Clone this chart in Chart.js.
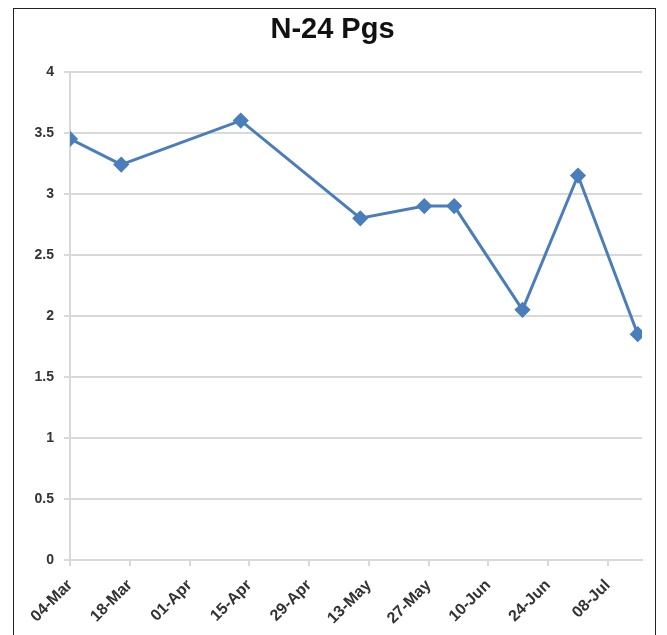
<!DOCTYPE html>
<html>
<head>
<meta charset="utf-8">
<script src="https://cdn.jsdelivr.net/npm/chart.js@4/dist/chart.umd.min.js"></script>
<style>
  body { margin: 0; background: #fff; }
  #frame { position: absolute; left: 13px; top: 8px; width: 643px; height: 640px; border: 1.5px solid #222; box-sizing: border-box; }
  #wrap { position: absolute; left: 23px; top: 0; width: 644px; height: 635px; }
</style>
</head>
<body>
<div id="frame"></div>
<div id="wrap"><canvas id="grafico"></canvas></div>
<script>
var startDate = '2013-03-04';
var sampleDates = ['2013-03-04', '2013-03-16', '2013-04-13', '2013-05-11', '2013-05-26',
                   '2013-06-02', '2013-06-18', '2013-07-01', '2013-07-15'];
var pgsValues = [3.45, 3.24, 3.6, 2.8, 2.9, 2.9, 2.05, 3.15, 1.85];
var xTickLabels = ['04-Mar', '18-Mar', '01-Apr', '15-Apr', '29-Apr', '13-May',
                   '27-May', '10-Jun', '24-Jun', '08-Jul'];
var yTickStep = 0.5;

function dayOffset(s) {
    return Math.round((Date.parse(s) - Date.parse(startDate)) / 86400000);
}

var points = sampleDates.map(function (d, i) {
    return { x: dayOffset(d), y: pgsValues[i] };
});

var gridColor = '#d9d9d9';

var ctx = document.getElementById('grafico').getContext('2d');
var grafico = new Chart(ctx, {
    type: 'line',
    data: {
        datasets: [{
            label: 'N-24 Pgs',
            data: points,
            borderColor: '#4a7ebb',
            backgroundColor: '#4a7ebb',
            borderWidth: 3,
            pointStyle: 'rectRot',
            pointRadius: 6,
            pointHoverRadius: 6,
            tension: 0
        }]
    },
    options: {
        responsive: true,
        maintainAspectRatio: false,
        animation: false,
        layout: { padding: { left: 0, right: 25, top: 0, bottom: 0 } },
        plugins: {
            legend: { display: false },
            tooltip: { enabled: false },
            title: {
                display: true,
                text: 'N-24 Pgs',
                color: '#111',
                font: { family: 'Liberation Sans', size: 29, weight: 'bold' },
                padding: { top: 13, bottom: 24 }
            }
        },
        scales: {
            x: {
                type: 'linear',
                min: 0,
                max: 134,
                afterBuildTicks: function (axis) {
                    axis.ticks = xTickLabels.map(function (l, i) { return { value: i * 14 }; });
                },
                afterFit: function (axis) { axis.height = 75; },
                grid: { drawOnChartArea: false, drawTicks: true, tickLength: 6, color: gridColor, lineWidth: 2 },
                border: { display: true, color: gridColor, width: 2 },
                ticks: {
                    autoSkip: false,
                    maxRotation: 45,
                    minRotation: 45,
                    padding: 10,
                    color: '#333',
                    font: { family: 'Liberation Sans', size: 16, weight: 'bold' },
                    callback: function (v) { return xTickLabels[Math.round(v / 14)]; }
                }
            },
            y: {
                min: 0,
                max: 4,
                afterFit: function (axis) { axis.width = 47; },
                grid: { color: gridColor, lineWidth: 2, tickLength: 6 },
                border: { display: true, color: gridColor, width: 2 },
                ticks: {
                    stepSize: yTickStep,
                    padding: 10,
                    color: '#333',
                    font: { family: 'Liberation Sans', size: 14, weight: 'bold' },
                    callback: function (v) { return String(v); }
                }
            }
        }
    }
});
</script>
</body>
</html>
